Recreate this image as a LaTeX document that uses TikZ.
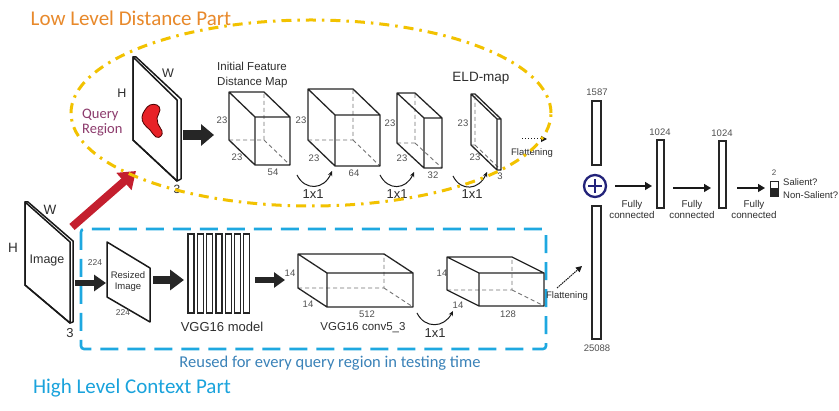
\documentclass[tikz,border=0pt]{standalone}
\usepackage{fontspec}
\setmainfont{Liberation Sans}
\newfontfamily\calfont{Carlito}
\usetikzlibrary{arrows.meta}
\definecolor{orangeT}{HTML}{E8892B}
\definecolor{cyanT}{HTML}{1AA3DC}
\definecolor{cyanB}{HTML}{1EA8E0}
\definecolor{reuseT}{HTML}{3A82B8}
\definecolor{yellowE}{HTML}{F2C200}
\definecolor{redA}{HTML}{C41F2E}
\definecolor{blobR}{HTML}{E82228}
\definecolor{purpleT}{HTML}{8C3A6C}
\definecolor{navyP}{HTML}{23237A}
\definecolor{txt}{HTML}{2E2E2E}
\definecolor{num}{HTML}{505050}
\newcommand\cuboid[7]{%
 \path (#2,#3) coordinate (#1-a) ++(#4,0) coordinate (#1-b) ++(0,#5) coordinate (#1-c) ++(-#4,0) coordinate (#1-d);
 \path (#1-a) ++(#6,#7) coordinate (#1-e) ++(#4,0) coordinate (#1-f) ++(0,#5) coordinate (#1-g) ++(-#4,0) coordinate (#1-h);
 \draw[hiddenedge] (#1-d) -- (#1-c) -- (#1-b) (#1-c) -- (#1-g);
 \draw[cubeedge] (#1-a) -- (#1-b) -- (#1-f) -- (#1-g) -- (#1-h) -- (#1-d) -- cycle (#1-a) -- (#1-e) -- (#1-f) (#1-e) -- (#1-h);
}
\begin{document}
\begin{tikzpicture}[x=1pt,y=-1pt,
 lbl/.style={text=txt, inner sep=0pt},
 dimlbl/.style={text=num, font=\fontsize{9.5}{10}\selectfont, inner sep=0pt},
 hiddenedge/.style={draw=black!55, line width=0.9pt, dash pattern=on 4pt off 3pt},
 cubeedge/.style={draw=black!85, line width=1.3pt, line join=round},
 planeedge/.style={draw=black!90, line width=1.5pt, line join=round},
 bar/.style={draw=black!85, line width=1.2pt, fill=white},
 fcarrow/.style={draw=black!90, line width=1.4pt, -{Triangle[length=7pt,width=8pt]}},
 oneone/.style={draw=black!90, line width=1pt, -{Stealth[length=5pt,width=4.5pt]}},
 flatarrow/.style={draw=black!90, line width=1pt, dotted, -{Triangle[length=6pt,width=6pt]}},
]
\useasboundingbox (0,0) rectangle (839,411);
\fill[white] (0,0) rectangle (839,411);

% ---------- titles ----------
\node[text=orangeT, font=\calfont\fontsize{21}{24}\selectfont, inner sep=0pt] (tlow) at (131,18) {Low Level Distance Part};
\node[text=cyanT, font=\calfont\fontsize{21}{24}\selectfont, inner sep=0pt] (thigh) at (132,388) {High Level Context Part};
\node[text=reuseT, font=\calfont\fontsize{16.5}{18}\selectfont, inner sep=0pt] (treuse) at (330,363) {Reused for every query region in testing time};

% ---------- blue dashed box ----------
\draw[cyanB, line width=2.6pt, dash pattern=on 18pt off 9pt, rounded corners=3pt] (81,229) rectangle (546,349);

% ---------- input image ----------
\draw[planeedge, fill=white] (28,202) -- (73,241) -- (73,322) -- (70,323) -- (25,285) -- (25,202) -- cycle;
\draw[planeedge] (25,202) -- (70,242) -- (70,323) -- (25,285) -- cycle;
\node[lbl, font=\fontsize{12.5}{14}\selectfont] (imgtxt) at (47,260) {Image};
\node[lbl, font=\fontsize{13.5}{14}\selectfont] (imgW) at (50,210) {W};
\node[lbl, font=\fontsize{13.5}{14}\selectfont] (imgH) at (13,248) {H};
\node[lbl, font=\fontsize{13}{14}\selectfont] (img3) at (70,333) {3};

% ---------- red arrow ----------
\coordinate (ra1) at (72,227);
\coordinate (ra2) at (136,171);
\draw[redA, line width=8pt, -{Triangle[length=16pt,width=22pt]}] (ra1) -- (ra2);

% ---------- query plane ----------
\draw[planeedge, fill=white] (133,57) -- (136,57) -- (181,99) -- (181,179) -- (177,181) -- (133,140) -- cycle;
\draw[planeedge] (133,57) -- (177,100) -- (177,181) -- (133,140) -- cycle;
\fill[blobR, draw=black!70!red, line width=0.8pt] plot[smooth cycle, tension=0.7] coordinates {(145,110) (150,105) (157,105) (160,110) (157,118) (158,124) (162,131) (161,136) (156,137) (150,130) (144,124) (142,117)};
\node[lbl, font=\fontsize{12.5}{14}\selectfont] (qW) at (168,73) {W};
\node[lbl, font=\fontsize{12.5}{14}\selectfont] (qH) at (122,93) {H};
\node[lbl, font=\fontsize{12}{14}\selectfont] (q3) at (177,189) {3};
\node[text=purpleT, font=\calfont\fontsize{14.5}{15}\selectfont, inner sep=0pt, align=left, anchor=west] (qreg) at (82,122.5) {Query\\Region};

% ---------- arrow to first cube ----------
\coordinate (qa1) at (183,135);
\coordinate (qa2) at (214,135);
\draw[black!85, line width=10pt, -{Triangle[length=13pt,width=21pt]}] (qa1) -- (qa2);

% ---------- upper cubes ----------
\cuboid{c1}{229}{92}{35}{48}{26}{25}
\cuboid{c2}{308}{89}{45}{51}{27}{26}
\cuboid{c3}{397}{93}{18}{50}{27}{25}
\cuboid{c4}{471}{94}{4}{51}{26}{25}
\node[lbl, font=\fontsize{11.5}{15}\selectfont, align=left, anchor=west] (ifd) at (217,75.5) {Initial Feature\\Distance Map};
\node[lbl, font=\fontsize{13.5}{15}\selectfont] (eld) at (481,78) {ELD-map};
\node[dimlbl] (c1l) at (222,120) {23};
\node[dimlbl] (c1d) at (237,157) {23};
\node[dimlbl] (c1w) at (273,172) {54};
\node[dimlbl] (c2l) at (301,120) {23};
\node[dimlbl] (c2d) at (314,158) {23};
\node[dimlbl] (c2w) at (354,173) {64};
\node[dimlbl] (c3l) at (390,123) {23};
\node[dimlbl] (c3d) at (402,158) {23};
\node[dimlbl] (c3w) at (433,175) {32};
\node[dimlbl] (c4l) at (463,123) {23};
\node[dimlbl] (c4d) at (475,157) {23};
\node[dimlbl] (c4w) at (500,176) {3};

% 1x1 arcs (upper)
\coordinate (u1a) at (297,175); \coordinate (u1b) at (332,171);
\coordinate (u2a) at (380,175); \coordinate (u2b) at (414,172);
\coordinate (u3a) at (453,176); \coordinate (u3b) at (487,172);
\draw[oneone] (u1a) .. controls (305,191) and (324,190) .. (u1b);
\draw[oneone] (u2a) .. controls (388,191) and (406,190) .. (u2b);
\draw[oneone] (u3a) .. controls (461,192) and (479,190) .. (u3b);
\node[lbl, font=\fontsize{13}{14}\selectfont] (o1) at (313,194) {1x1};
\node[lbl, font=\fontsize{13}{14}\selectfont] (o2) at (397,194) {1x1};
\node[lbl, font=\fontsize{13}{14}\selectfont] (o3) at (472,194) {1x1};

% flattening (upper)
\coordinate (f1a) at (522,139); \coordinate (f1b) at (547,139);
\draw[flatarrow] (f1a) -- (f1b);
\node[lbl, font=\fontsize{9.5}{10}\selectfont] (fl1) at (532,153) {Flattening};

% ---------- yellow ellipse ----------
\draw[yellowE, line width=3pt, dash pattern=on 10pt off 6pt on 2.5pt off 6pt] (311,113) ellipse [x radius=240pt, y radius=93pt];

% ---------- lower path ----------
\coordinate (ba1) at (75,283); \coordinate (ba2) at (106,283);
\draw[black!85, line width=6.5pt, -{Triangle[length=12pt,width=16pt]}] (ba1) -- (ba2);
\draw[planeedge, fill=white] (107,242) -- (150,268) -- (150,322) -- (107,297) -- cycle;
\node[lbl, font=\fontsize{9.5}{11.5}\selectfont, align=center] (rsz) at (128,281.5) {Resized\\Image};
\node[dimlbl, font=\fontsize{8.5}{10}\selectfont] (r224a) at (95,263) {224};
\node[dimlbl, font=\fontsize{8.5}{10}\selectfont] (r224b) at (123,313) {224};
\coordinate (bb1) at (153,280); \coordinate (bb2) at (184,280);
\draw[black!85, line width=8pt, -{Triangle[length=14pt,width=20pt]}] (bb1) -- (bb2);
\foreach \i in {0,...,6} {
 \draw[bar] ({188+9.3*\i},234) rectangle ({194+9.3*\i},313);
}
\node[lbl, font=\fontsize{13}{14}\selectfont] (vgg) at (222,327) {VGG16 model};
\coordinate (bc1) at (255,280); \coordinate (bc2) at (285,280);
\draw[black!85, line width=6pt, -{Triangle[length=11pt,width=15pt]}] (bc1) -- (bc2);

\cuboid{c5}{298}{254}{86}{34}{29}{19}
\cuboid{c6}{447}{257}{65}{33}{32}{16}
\node[dimlbl] (c5l) at (290,273) {14};
\node[dimlbl] (c5d) at (308,304) {14};
\node[dimlbl] (c5w) at (367,314) {512};
\node[lbl, font=\fontsize{11.5}{14}\selectfont] (conv) at (363,328) {VGG16 conv5\_3};
\node[dimlbl] (c6l) at (442,273) {14};
\node[dimlbl] (c6d) at (458,305) {14};
\node[dimlbl] (c6w) at (508,314) {128};
\coordinate (l1a) at (417,313); \coordinate (l1b) at (453,311);
\draw[oneone] (l1a) .. controls (425,329) and (444,328) .. (l1b);
\node[lbl, font=\fontsize{13}{14}\selectfont] (o4) at (435,333) {1x1};

% flattening (lower)
\coordinate (f2a) at (557,288); \coordinate (f2b) at (582,266);
\draw[flatarrow, dash pattern=on 1.5pt off 0.8pt] (f2a) -- (f2b);
\node[lbl, font=\fontsize{9.5}{10}\selectfont] (fl2) at (567,296) {Flattening};

% ---------- fully connected part ----------
\draw[bar] (592,101) rectangle (601,165);
\draw[bar] (592,206) rectangle (601,339);
\node[dimlbl] (n1587) at (597,92) {1587};
\node[dimlbl] (n25088) at (597,348) {25088};
\node[draw=navyP, line width=2.3pt, circle, minimum size=22pt, inner sep=0pt] (plus) at (595,186) {};
\draw[navyP, line width=2.3pt] ([xshift=-7pt]plus.center) -- ([xshift=7pt]plus.center) ([yshift=-7pt]plus.center) -- ([yshift=7pt]plus.center);

\draw[bar] (657,140) rectangle (664,208);
\draw[bar] (719,141) rectangle (726,208);
\node[dimlbl] (n1024a) at (660,132) {1024};
\node[dimlbl] (n1024b) at (722,133) {1024};
\coordinate (fa1) at (615,186); \coordinate (fa2) at (652,186);
\coordinate (fb1) at (673,188); \coordinate (fb2) at (711,188);
\coordinate (fc1) at (737,188); \coordinate (fc2) at (765,188);
\draw[fcarrow] (fa1) -- (fa2);
\draw[fcarrow] (fb1) -- (fb2);
\draw[fcarrow] (fc1) -- (fc2);
\node[lbl, font=\fontsize{9.8}{11.5}\selectfont, align=center] (fc1t) at (632,209.5) {Fully\\connected};
\node[lbl, font=\fontsize{9.8}{11.5}\selectfont, align=center] (fc2t) at (692,209.5) {Fully\\connected};
\node[lbl, font=\fontsize{9.8}{11.5}\selectfont, align=center] (fc3t) at (754,209.5) {Fully\\connected};

\draw[draw=black!85, line width=1pt, fill=white] (770,182) rectangle (778,189);
\draw[draw=black!85, line width=1pt, fill=black!85] (770,189) rectangle (778,197);
\node[dimlbl, font=\fontsize{8}{9}\selectfont] (n2) at (774,173) {2};
\node[lbl, font=\fontsize{9.5}{10}\selectfont, anchor=west] (sal) at (783,182) {Salient?};
\node[lbl, font=\fontsize{9.5}{10}\selectfont, anchor=west] (nsal) at (783,195) {Non-Salient?};
\end{tikzpicture}
\end{document}
